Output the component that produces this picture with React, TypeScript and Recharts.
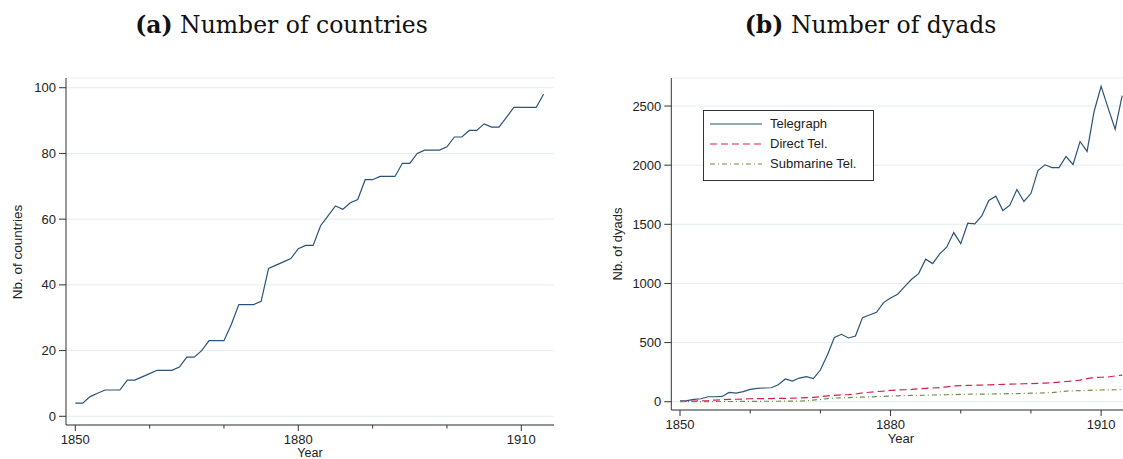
import React from 'react'
import { LineChart, Line, XAxis, YAxis, CartesianGrid } from 'recharts'

/* ---------------- data ---------------- */

const years = [
  1850, 1851, 1852, 1853, 1854, 1855, 1856, 1857, 1858, 1859,
  1860, 1861, 1862, 1863, 1864, 1865, 1866, 1867, 1868, 1869,
  1870, 1871, 1872, 1873, 1874, 1875, 1876, 1877, 1878, 1879,
  1880, 1881, 1882, 1883, 1884, 1885, 1886, 1887, 1888, 1889,
  1890, 1891, 1892, 1893, 1894, 1895, 1896, 1897, 1898, 1899,
  1900, 1901, 1902, 1903, 1904, 1905, 1906, 1907, 1908, 1909,
  1910, 1911, 1912, 1913,
]

const countries = [
  4, 4, 6, 7, 8, 8, 8, 11, 11, 12,
  13, 14, 14, 14, 15, 18, 18, 20, 23, 23,
  23, 28, 34, 34, 34, 35, 45, 46, 47, 48,
  51, 52, 52, 58, 61, 64, 63, 65, 66, 72,
  72, 73, 73, 73, 77, 77, 80, 81, 81, 81,
  82, 85, 85, 87, 87, 89, 88, 88, 91, 94,
  94, 94, 94, 98,
]

const telegraph = [
  8, 10, 20, 25, 42, 42, 45, 79, 73, 85,
  104, 113, 116, 118, 144, 192, 175, 200, 212, 195,
  268, 395, 544, 570, 539, 556, 711, 733, 756, 838,
  877, 908, 973, 1035, 1083, 1205, 1168, 1250, 1306, 1430,
  1337, 1509, 1504, 1571, 1701, 1738, 1616, 1662, 1794, 1693,
  1760, 1955, 2003, 1980, 1980, 2073, 2006, 2200, 2116, 2454,
  2666, 2482, 2305, 2587,
]

const directTel = [
  2, 4, 6, 8, 10, 14, 17, 19, 21, 23,
  25, 26, 27, 27, 28, 28, 30, 32, 35, 37,
  42, 50, 54, 58, 60, 65, 75, 80, 86, 90,
  96, 99, 101, 104, 110, 113, 116, 120, 126, 133,
  136, 138, 140, 141, 143, 145, 147, 149, 150, 152,
  153, 155, 158, 161, 166, 171, 175, 183, 195, 206,
  207, 209, 218, 225,
]

const submarineTel = [
  0, 0, 1, 1, 1, 2, 2, 2, 2, 3,
  3, 3, 4, 4, 4, 5, 5, 6, 8, 14,
  20, 26, 31, 33, 35, 37, 39, 41, 43, 45,
  48, 50, 52, 53, 54, 55, 57, 58, 59, 60,
  62, 63, 64, 65, 65, 66, 67, 68, 69, 70,
  72, 73, 75, 77, 84, 90, 92, 94, 96, 98,
  99, 100, 101, 102,
]

const xTicks = [1850, 1860, 1870, 1880, 1890, 1900, 1910]
const xMajor = [1850, 1880, 1910]
const countryTicks = [0, 20, 40, 60, 80, 100]
const dyadTicks = [0, 500, 1000, 1500, 2000, 2500]

const countryRows = years.map((year, i) => ({ year, countries: countries[i] }))
const dyadRows = years.map((year, i) => ({
  year,
  telegraph: telegraph[i],
  direct: directTel[i],
  submarine: submarineTel[i],
}))

/* ---------------- styles ---------------- */

const NAVY = '#2a5377'
const RED = '#d81e50'
const GREEN = '#6f8f4a'
const AXIS = '#333'
const GRID = '#e3edf0'
const SANS = '"Liberation Sans", Arial, sans-serif'
const SERIF = '"DejaVu Serif", serif'

/* ---------------- ticks ---------------- */

function YearTick(props: any) {
  const { x, y, payload } = props
  const major = xMajor.includes(payload.value)
  return (
    <g>
      <line x1={x} x2={x} y1={y} y2={y + (major ? 6 : 3.5)} stroke={AXIS} strokeWidth={1} />
      {major && (
        <text x={x} y={y + 19} textAnchor="middle" fontSize={13} fontFamily={SANS} fill="#222">
          {payload.value}
        </text>
      )}
    </g>
  )
}

/* ---------------- legend ---------------- */

const legendItems = [
  { label: 'Telegraph', color: NAVY, dash: undefined },
  { label: 'Direct Tel.', color: RED, dash: '7 4' },
  { label: 'Submarine Tel.', color: GREEN, dash: '5 3 1 3' },
]

function DyadLegend() {
  return (
    <div
      style={{
        position: 'absolute',
        left: 703,
        top: 110,
        width: 171,
        height: 71,
        border: '1px solid #333',
        background: '#fff',
        boxSizing: 'border-box',
        paddingTop: 3,
      }}
    >
      {legendItems.map((it) => (
        <div key={it.label} style={{ display: 'flex', alignItems: 'center', height: 20 }}>
          <svg width={66} height={20} style={{ display: 'block' }}>
            <line x1={6} x2={58} y1={10} y2={10} stroke={it.color} strokeWidth={1.2} strokeDasharray={it.dash} />
          </svg>
          <span style={{ fontFamily: SANS, fontSize: 13, color: '#222', lineHeight: '20px' }}>{it.label}</span>
        </div>
      ))}
    </div>
  )
}

/* ---------------- app ---------------- */

const textBase: React.CSSProperties = { position: 'absolute', whiteSpace: 'nowrap' }

export default function App() {
  return (
    <div
      style={{
        position: 'absolute',
        left: 0,
        top: 0,
        width: 1123,
        height: 459,
        overflow: 'hidden',
        background: '#fff',
      }}
    >
      {/* titles */}
      <div style={{ ...textBase, left: 0, width: 563, top: 10, lineHeight: '30px', textAlign: 'center', fontFamily: SERIF, fontSize: 23.5, color: '#111' }}>
        <b>(a)</b> Number of countries
      </div>
      <div style={{ ...textBase, left: 589, width: 563, top: 10, lineHeight: '30px', textAlign: 'center', fontFamily: SERIF, fontSize: 23.5, color: '#111' }}>
        <b>(b)</b> Number of dyads
      </div>

      {/* panel a */}
      <div style={{ position: 'absolute', left: 0, top: 0 }}>
        <LineChart width={560} height={459} data={countryRows} margin={{ top: 78, right: 6, bottom: 0, left: 0 }}>
          <CartesianGrid horizontal vertical={false} stroke={GRID} />
          <XAxis
            dataKey="year"
            type="number"
            domain={[1848.75, 1914.4]}
            ticks={xTicks}
            allowDataOverflow
            height={34}
            tickSize={0}
            tickMargin={0}
            tickLine={false}
            tick={<YearTick />}
            interval={0}
            axisLine={{ stroke: AXIS }}
          />
          <YAxis
            type="number"
            domain={[-2.65, 102.96]}
            ticks={countryTicks}
            allowDataOverflow
            width={66}
            tickSize={7}
            tickMargin={3}
            interval={0}
            tick={{ fontSize: 13, fontFamily: SANS, fill: '#222' }}
            tickLine={{ stroke: AXIS }}
            axisLine={{ stroke: AXIS }}
          />
          <Line dataKey="countries" stroke={NAVY} strokeWidth={1.2} dot={false} isAnimationActive={false} />
        </LineChart>
      </div>
      <div style={{ ...textBase, left: 17, top: 252, fontFamily: SANS, fontSize: 13.5, color: '#222', transform: 'translate(-50%, -50%) rotate(-90deg)' }}>
        Nb. of countries
      </div>
      <div style={{ ...textBase, left: 310, top: 447, lineHeight: '12px', fontFamily: SANS, fontSize: 12.5, color: '#222', transform: 'translateX(-50%)' }}>
        Year
      </div>

      {/* panel b */}
      <div style={{ position: 'absolute', left: 600, top: 0 }}>
        <LineChart width={540} height={459} data={dyadRows} margin={{ top: 78, right: 8, bottom: 0, left: 0 }}>
          <CartesianGrid horizontal vertical={false} stroke={GRID} />
          <XAxis
            dataKey="year"
            type="number"
            domain={[1848.76, 1914.4]}
            ticks={xTicks}
            allowDataOverflow
            height={49}
            tickSize={0}
            tickMargin={0}
            tickLine={false}
            tick={<YearTick />}
            interval={0}
            axisLine={{ stroke: AXIS }}
          />
          <YAxis
            type="number"
            domain={[-70, 2737]}
            ticks={dyadTicks}
            allowDataOverflow
            width={71.3}
            tickSize={7}
            tickMargin={3}
            interval={0}
            tick={{ fontSize: 13, fontFamily: SANS, fill: '#222' }}
            tickLine={{ stroke: AXIS }}
            axisLine={{ stroke: AXIS }}
          />
          <Line dataKey="telegraph" stroke={NAVY} strokeWidth={1.2} dot={false} isAnimationActive={false} />
          <Line dataKey="direct" stroke={RED} strokeWidth={1.2} strokeDasharray="7 4" dot={false} isAnimationActive={false} />
          <Line dataKey="submarine" stroke={GREEN} strokeWidth={1.2} strokeDasharray="5 3 1 3" dot={false} isAnimationActive={false} />
        </LineChart>
      </div>
      <DyadLegend />
      <div style={{ ...textBase, left: 617, top: 244, fontFamily: SANS, fontSize: 13, color: '#222', transform: 'translate(-50%, -50%) rotate(-90deg)' }}>
        Nb. of dyads
      </div>
      <div style={{ ...textBase, left: 901, top: 432, lineHeight: '14px', fontFamily: SANS, fontSize: 13, color: '#222', transform: 'translateX(-50%)' }}>
        Year
      </div>
    </div>
  )
}
